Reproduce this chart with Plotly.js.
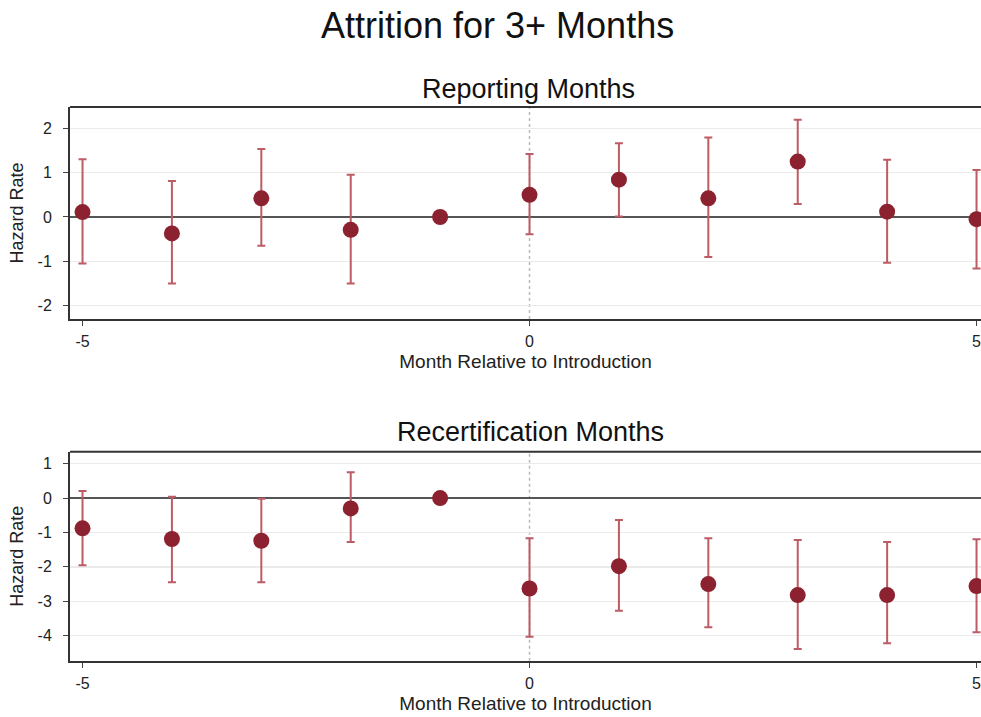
<!DOCTYPE html>
<html>
<head>
<meta charset="utf-8">
<script src="https://cdn.plot.ly/plotly-3.0.1.min.js"></script>
<style>html,body{margin:0;padding:0;background:#fff;overflow:hidden;}#chart{width:981px;height:717px;}</style>
</head>
<body>
<div id="chart"></div>
<script>
// Month relative to introduction
var months = [-5, -4, -3, -2, -1, 0, 1, 2, 3, 4, 5];

// Reporting months: estimate and 95% CI
var repEst = [0.11, -0.37, 0.42, -0.29, 0, 0.50, 0.84, 0.42, 1.25, 0.12, -0.05];
var repLo  = [-1.05, -1.50, -0.65, -1.50, 0, -0.39, 0.01, -0.90, 0.29, -1.03, -1.16];
var repHi  = [1.30, 0.81, 1.53, 0.95, 0, 1.42, 1.66, 1.79, 2.19, 1.29, 1.06];

// Recertification months: estimate and 95% CI
var recEst = [-0.88, -1.19, -1.24, -0.30, 0, -2.63, -1.98, -2.50, -2.82, -2.82, -2.56];
var recLo  = [-1.95, -2.45, -2.45, -1.28, 0, -4.03, -3.28, -3.76, -4.39, -4.22, -3.90];
var recHi  = [0.21, 0.04, -0.02, 0.75, 0, -1.17, -0.64, -1.17, -1.22, -1.28, -1.20];

var xTicks = [-5, 0, 5];
var repTicks = [-2, -1, 0, 1, 2];
var recTicks = [-4, -3, -2, -1, 0, 1];

var dotColor = '#8c2230';
var barColor = '#bc5c64';
var FONT = 'Liberation Sans, Arial, Helvetica, sans-serif';

function diff(a, b) { return a.map(function (v, i) { return v - b[i]; }); }

function trace(est, lo, hi, xa, ya) {
  return {
    type: 'scatter', mode: 'markers', x: months, y: est, xaxis: xa, yaxis: ya,
    marker: {color: dotColor, size: 16},
    error_y: {type: 'data', symmetric: false, array: diff(hi, est), arrayminus: diff(est, lo),
      color: barColor, thickness: 2, width: 4},
    showlegend: false, hoverinfo: 'x+y'
  };
}

var data = [trace(repEst, repLo, repHi, 'x', 'y'), trace(recEst, recLo, recHi, 'x2', 'y2')];

function xax(anchor) {
  return {
    anchor: anchor, domain: [0, 1], range: [-5.14, 5.05],
    tickvals: xTicks, ticktext: xTicks.map(String), ticks: 'outside', ticklen: 5, tickwidth: 1,
    tickcolor: '#444', showgrid: false, zeroline: false, showline: true, linecolor: '#333', linewidth: 2,
    ticklabeloverflow: 'allow', ticklabelstandoff: 2,
    tickfont: {family: FONT, size: 16, color: '#222'},
    title: {text: 'Month Relative to Introduction', font: {family: FONT, size: 19, color: '#222'}, standoff: 6}
  };
}
function yax(anchor, dom, range, ticks) {
  return {
    anchor: anchor, domain: dom, range: range,
    tickvals: ticks, ticktext: ticks.map(String), ticks: 'outside', ticklen: 5, tickwidth: 1,
    tickcolor: '#444', showgrid: true, gridcolor: '#ebebeb', gridwidth: 1.5,
    zeroline: true, zerolinecolor: '#555', zerolinewidth: 2.5,
    showline: true, linecolor: '#333', linewidth: 2, ticklabelstandoff: 8,
    tickfont: {family: FONT, size: 16, color: '#222'},
    title: {text: 'Hazard Rate', font: {family: FONT, size: 18, color: '#222'}, standoff: 9}
  };
}

var layout = {
  width: 981, height: 717,
  margin: {l: 70, r: 0, t: 0, b: 0},
  paper_bgcolor: '#fff', plot_bgcolor: '#fff',
  font: {family: FONT, color: '#222'},
  xaxis: xax('y'),
  yaxis: yax('x', [0.5551, 0.8508], [-2.3, 2.48], repTicks),
  xaxis2: xax('y2'),
  yaxis2: yax('x2', [0.0785, 0.3700], [-4.73, 1.35], recTicks),
  shapes: [
    {type: 'line', xref: 'x', yref: 'y domain', x0: 0, x1: 0, y0: 0, y1: 1, line: {color: '#bbb', width: 1.5, dash: 'dot'}, layer: 'below'},
    {type: 'line', xref: 'x2', yref: 'y2 domain', x0: 0, x1: 0, y0: 0, y1: 1, line: {color: '#bbb', width: 1.5, dash: 'dot'}, layer: 'below'},
    {type: 'line', xref: 'x domain', yref: 'y domain', x0: 0, x1: 1, y0: 1, y1: 1, line: {color: '#333', width: 2}},
    {type: 'line', xref: 'x2 domain', yref: 'y2 domain', x0: 0, x1: 1, y0: 1, y1: 1, line: {color: '#333', width: 2}}
  ],
  annotations: [
    {text: 'Attrition for 3+ Months', xref: 'paper', yref: 'paper', x: (497 - 70) / 911, y: 1 - 25 / 717,
      xanchor: 'center', yanchor: 'middle', showarrow: false, font: {family: FONT, size: 36, color: '#111'}},
    {text: 'Reporting Months', xref: 'paper', yref: 'paper', x: (528 - 70) / 911, y: 1 - 89 / 717,
      xanchor: 'center', yanchor: 'middle', showarrow: false, font: {family: FONT, size: 27, color: '#111'}},
    {text: 'Recertification Months', xref: 'paper', yref: 'paper', x: (530 - 70) / 911, y: 1 - 432 / 717,
      xanchor: 'center', yanchor: 'middle', showarrow: false, font: {family: FONT, size: 27, color: '#111'}}
  ]
};

Plotly.newPlot('chart', data, layout, {displayModeBar: false, staticPlot: true});
</script>
</body>
</html>
